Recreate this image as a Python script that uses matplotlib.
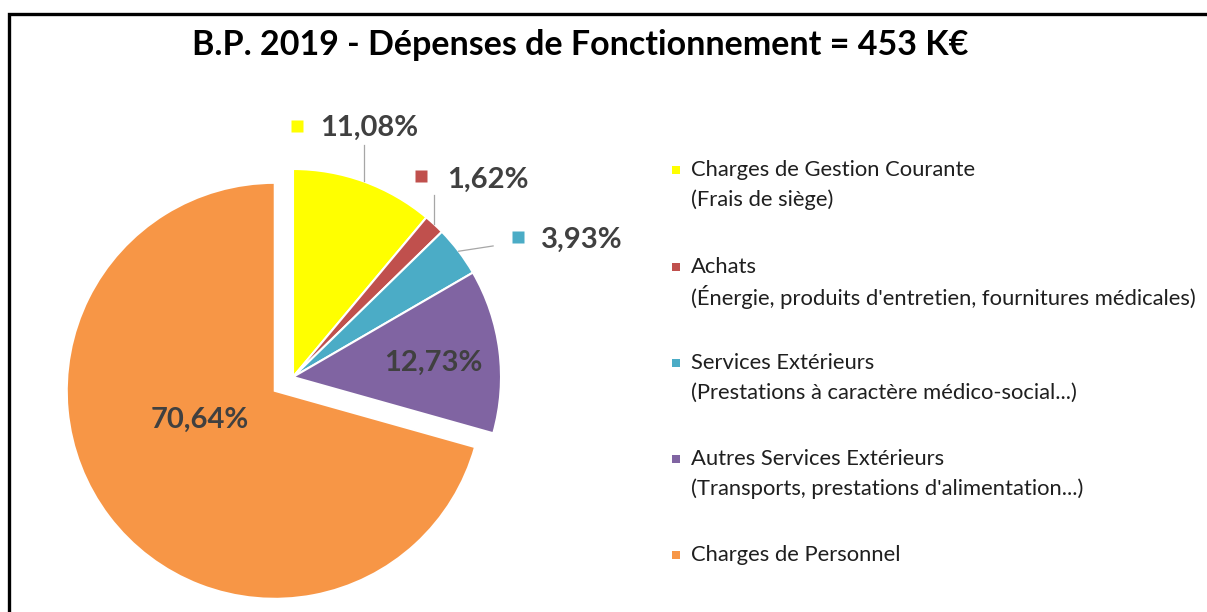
import numpy as np
import matplotlib
matplotlib.use('Agg')
import matplotlib.pyplot as plt
from matplotlib.patches import Rectangle

plt.rcParams['font.family'] = ['Lato', 'DejaVu Sans']

# données
categories = ['Charges de Gestion Courante\n(Frais de siège)',
              "Achats\n(Énergie, produits d'entretien, fournitures médicales)",
              'Services Extérieurs\n(Prestations à caractère médico-social...)',
              "Autres Services Extérieurs\n(Transports, prestations d'alimentation...)",
              'Charges de Personnel']
values = [11.08, 1.62, 3.93, 12.73, 70.64]
pct_labels = ['11,08%', '1,62%', '3,93%', '12,73%', '70,64%']
colors = ['#FFFF00', '#C0504D', '#4BACC6', '#8064A2', '#F79646']
title = 'B.P. 2019 - Dépenses de Fonctionnement = 453 K€'

W, H = 1207, 612
fig = plt.figure(figsize=(W / 100, H / 100), dpi=100)

# cadre
fig.add_artist(Rectangle((9 / W, -0.1), 1.2, (H - 14) / H + 0.1, transform=fig.transFigure,
                         fill=False, ec='black', lw=2.4))

# axe du camembert : 1 unité = 208 px, centre en (293, 377)
R = 208
lim = 1.4
cx, cy = 293, H - 377
size = 2 * lim * R
ax = fig.add_axes([(cx - size / 2) / W, (cy - size / 2) / H, size / W, size / H])

explode = [0, 0, 0, 0, 0.11]
wedges, _ = ax.pie(values, colors=colors, startangle=90, counterclock=False,
                   explode=explode, radius=1,
                   wedgeprops=dict(edgecolor='white', linewidth=1.5))
ax.set_xlim(-lim, lim)
ax.set_ylim(-lim, lim)
ax.axis('off')

txt_color = '#404040'
fs_pct = 21

# étiquettes extérieures (avec trait de rappel et clé)
outside = {0: dict(end=(0.33, 1.115), key=(0.02, 1.207), txt=(0.13, 1.197)),
           1: dict(end=(0.673, 0.875), key=(0.615, 0.966), txt=(0.74, 0.947)),
           2: dict(end=(0.962, 0.63), key=(1.082, 0.673), txt=(1.192, 0.659))}
for i, o in outside.items():
    w = wedges[i]
    ang = np.deg2rad((w.theta1 + w.theta2) / 2)
    x0, y0 = np.cos(ang), np.sin(ang)
    ex, ey = o['end']
    if i == 2:
        ax.plot([x0, ex], [y0, ey], color='#a6a6a6', lw=0.9)
    else:
        ax.plot([x0, x0], [y0, ey], color='#a6a6a6', lw=0.9)
    ax.plot(*o['key'], marker='s', ms=9, color=colors[i], mec='none')
    ax.text(o['txt'][0], o['txt'][1], pct_labels[i], ha='left', va='center',
            fontsize=fs_pct, fontweight='bold', color=txt_color)

# étiquettes intérieures
ax.text(0.673, 0.067, pct_labels[3], ha='center', va='center',
        fontsize=fs_pct, fontweight='bold', color=txt_color)
ax.text(-0.447, -0.207, pct_labels[4], ha='center', va='center',
        fontsize=fs_pct, fontweight='bold', color=txt_color)

# titre
fig.text(580 / W, 1 - 45 / H, title, ha='center', va='center',
         fontsize=24.5, fontweight='bold', color='black')

# légende
leg_y = [170, 267, 363, 459, 555]
for lab, col, y in zip(categories, colors, leg_y):
    lines = lab.split('\n')
    fig.add_artist(Rectangle((672 / W, 1 - (y + 4) / H), 8 / W, 8 / H,
                             transform=fig.transFigure, color=col, lw=0))
    for k, line in enumerate(lines):
        fig.text(691 / W, 1 - (y + 30 * k) / H, line, ha='left', va='center',
                 fontsize=15.8, color='#1f1f1f')

fig.savefig('out.png', dpi=100)
